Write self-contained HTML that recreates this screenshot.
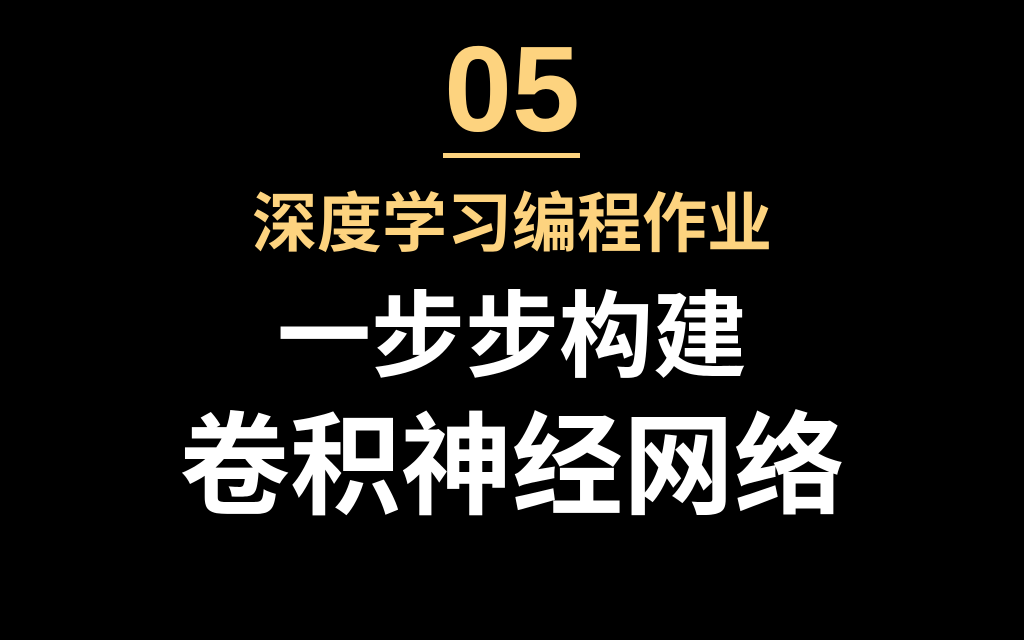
<!DOCTYPE html>
<html lang="zh">
<head>
<meta charset="utf-8">
<style>
  html, body { margin: 0; padding: 0; background: #000; }
  body { width: 1024px; height: 640px; position: relative; overflow: hidden; }
  .t { position: absolute; left: 0; width: 1024px; text-align: center; line-height: 1; white-space: nowrap; font-weight: bold; }
  .num { top: 28px; font-size: 122px; color: #FDD37F; font-family: "Liberation Sans", sans-serif; }
  .rule { position: absolute; left: 443px; top: 153px; width: 137px; height: 5px; background: #FDD37F; }
  .sub { top: 191px; font-size: 65px; color: #FDD37F; font-family: "Liberation Sans", "Noto Sans CJK SC", sans-serif; }
  .l1 { top: 290px; font-size: 94px; color: #fff; font-family: "Liberation Sans", "Noto Sans CJK SC", sans-serif; }
  .l2 { top: 412px; font-size: 111px; color: #fff; font-family: "Liberation Sans", "Noto Sans CJK SC", sans-serif; }
</style>
</head>
<body>
  <div class="t num">05</div>
  <div class="rule"></div>
  <div class="t sub">深度学习编程作业</div>
  <div class="t l1">一步步构建</div>
  <div class="t l2">卷积神经网络</div>
</body>
</html>
